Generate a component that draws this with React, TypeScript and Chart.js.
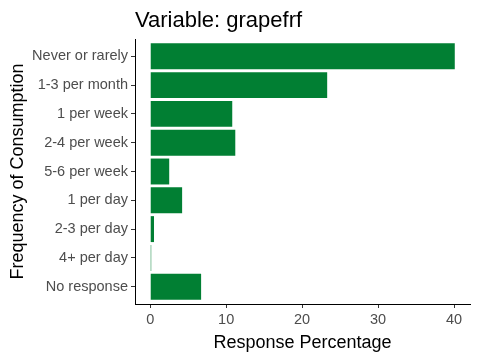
import React, { useEffect, useRef } from "react";
import { Chart, registerables } from "chart.js";

Chart.register(...registerables);

const categories = [
  "Never or rarely",
  "1-3 per month",
  "1 per week",
  "2-4 per week",
  "5-6 per week",
  "1 per day",
  "2-3 per day",
  "4+ per day",
  "No response",
];
const percentages = [40.1, 23.3, 10.8, 11.2, 2.5, 4.2, 0.5, 0.13, 6.7];
const xTicks = [0, 10, 20, 30, 40];
const titleText = "Variable: grapefrf";
const xTitle = "Response Percentage";
const yTitle = "Frequency of Consumption";

const FONT = "'Liberation Sans', Arial, sans-serif";

export default function App() {
  const ref = useRef<HTMLCanvasElement | null>(null);
  useEffect(() => {
    if (!ref.current) return;
    const titlePlugin = {
      id: "customTitle",
      afterDraw(chart: any) {
        const ctx = chart.ctx;
        ctx.save();
        ctx.font = `22px ${FONT}`;
        ctx.fillStyle = "#000000";
        ctx.textBaseline = "alphabetic";
        ctx.textAlign = "left";
        ctx.fillText(titleText, chart.chartArea.left, 27);
        ctx.restore();
      },
    };
    const chart = new Chart(ref.current, {
      type: "bar",
      data: {
        datasets: [
          {
            data: percentages.map((v, i) => ({ x: v, y: i + 1 })),
            backgroundColor: "#017F33",
            borderWidth: 0,
            barPercentage: 0.9,
            categoryPercentage: 1.0,
          },
        ],
      },
      options: {
        indexAxis: "y",
        responsive: false,
        animation: false,
        layout: { padding: { top: 39, right: 10, left: 0, bottom: 0 } },
        plugins: {
          legend: { display: false },
          tooltip: { enabled: false },
          title: { display: false },
        },
        scales: {
          x: {
            type: "linear",
            offset: false,
            min: -2.005,
            max: 42.105,
            afterBuildTicks: (scale: any) => {
              scale.ticks = xTicks.map((v) => ({ value: v }));
            },
            afterFit: (scale: any) => {
              scale.height = 56;
            },
            grid: {
              display: true,
              offset: false,
              drawOnChartArea: false,
              drawTicks: true,
              tickLength: 4,
              color: "#333333",
            },
            border: { display: true, color: "#000000", width: 1 },
            ticks: {
              color: "#4D4D4D",
              font: { family: FONT, size: 14.5 },
              padding: 3,
            },
            title: {
              display: true,
              text: xTitle,
              color: "#000000",
              font: { family: FONT, size: 18 },
              padding: { top: 2, bottom: 6 },
            },
          },
          y: {
            type: "linear",
            offset: false,
            reverse: true,
            min: 0.4,
            max: 9.6,
            afterBuildTicks: (scale: any) => {
              scale.ticks = categories.map((_, i) => ({ value: i + 1 }));
            },
            afterFit: (scale: any) => {
              scale.width = 135;
            },
            grid: {
              display: true,
              offset: false,
              drawOnChartArea: false,
              drawTicks: true,
              tickLength: 4,
              color: "#333333",
            },
            border: { display: true, color: "#000000", width: 1 },
            ticks: {
              color: "#4D4D4D",
              font: { family: FONT, size: 14.5 },
              padding: 3,
              autoSkip: false,
              callback: (v: any) => categories[Number(v) - 1] ?? "",
            },
            title: {
              display: true,
              text: yTitle,
              color: "#000000",
              font: { family: FONT, size: 18 },
              padding: { top: 7, bottom: 4 },
            },
          },
        },
      },
      plugins: [titlePlugin],
    } as any);
    return () => chart.destroy();
  }, []);
  return (
    <div style={{ position: "fixed", left: 0, top: 0, width: 480, height: 360, background: "#ffffff" }}>
      <canvas ref={ref} width={480} height={360} />
    </div>
  );
}
